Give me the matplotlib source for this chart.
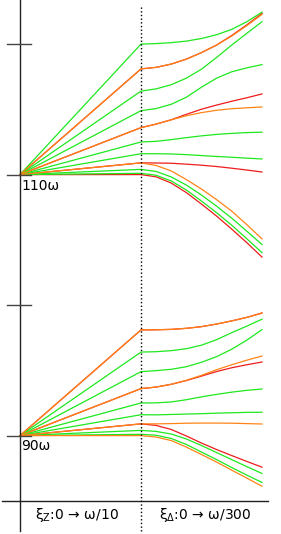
import matplotlib
matplotlib.use('Agg')
import matplotlib.pyplot as plt

# ---- data (energies in units of omega) ----
xi_delta = [0, 0.125, 0.25, 0.375, 0.5, 0.625, 0.75, 0.875, 1.0]   # fraction of omega/300

upper_base = 110
lower_base = 90
level_ticks = [90, 100, 110, 120]
base_labels = ['110ω', '90ω']

upper_green = [
    [120.0, 120.04, 120.11, 120.23, 120.43, 120.72, 121.13, 121.72, 122.45],
    [116.4, 116.57, 116.89, 117.39, 118.08, 118.98, 119.93, 120.83, 121.72],
    [114.9, 115.06, 115.39, 115.93, 116.7, 117.39, 117.88, 118.18, 118.43],
    [112.5, 112.55, 112.68, 112.83, 112.97, 113.08, 113.16, 113.22, 113.25],
    [111.6, 111.6, 111.58, 111.53, 111.46, 111.39, 111.33, 111.26, 111.2],
    [110.4, 110.24, 109.82, 109.2, 108.43, 107.58, 106.66, 105.66, 104.64],
    [110.1, 109.95, 109.51, 108.82, 107.97, 107.08, 106.12, 105.08, 104.02],
]
upper_orange = [
    [118.1, 118.22, 118.47, 118.85, 119.35, 119.93, 120.62, 121.42, 122.28],
    [113.6, 113.87, 114.2, 114.51, 114.75, 114.93, 115.05, 115.12, 115.18],
    [110.9, 110.7, 110.28, 109.62, 108.89, 108.08, 107.2, 106.16, 105.07],
]
upper_red = [
    [118.1, 118.22, 118.47, 118.85, 119.35, 119.93, 120.66, 121.48, 122.35],
    [113.6, 113.87, 114.2, 114.62, 115.01, 115.33, 115.62, 115.89, 116.18],
    [110.9, 110.89, 110.87, 110.8, 110.72, 110.62, 110.49, 110.35, 110.2],
    [110.0, 109.83, 109.35, 108.62, 107.74, 106.82, 105.82, 104.78, 103.68],
]

lower_green = [
    [96.4, 96.43, 96.51, 96.66, 96.93, 97.35, 97.89, 98.39, 98.92],
    [94.9, 94.98, 95.08, 95.28, 95.62, 96.05, 96.62, 97.32, 98.12],
    [92.5, 92.51, 92.58, 92.75, 92.97, 93.16, 93.33, 93.47, 93.57],
    [91.6, 91.59, 91.62, 91.65, 91.68, 91.72, 91.75, 91.78, 91.79],
    [90.4, 90.32, 90.12, 89.74, 89.24, 88.7, 88.16, 87.62, 87.1],
    [90.1, 90.03, 89.78, 89.32, 88.74, 88.16, 87.55, 86.97, 86.41],
]
lower_orange = [
    [98.1, 98.11, 98.14, 98.22, 98.35, 98.55, 98.79, 99.06, 99.38],
    [93.6, 93.72, 93.93, 94.24, 94.62, 95.05, 95.43, 95.78, 96.1],
    [90.9, 90.9, 90.92, 90.95, 90.96, 90.96, 90.95, 90.92, 90.89],
    [90.0, 89.89, 89.62, 89.12, 88.55, 87.97, 87.35, 86.74, 86.12],
]
lower_red = [
    [98.1, 98.11, 98.14, 98.22, 98.35, 98.55, 98.79, 99.06, 99.4],
    [93.6, 93.72, 93.93, 94.22, 94.56, 94.91, 95.2, 95.43, 95.64],
    [90.9, 90.78, 90.47, 89.97, 89.43, 88.93, 88.47, 88.02, 87.58],
]

GREEN = '#1ee81e'
ORANGE = '#ff8418'
RED = '#ee1c1c'

# ---- figure ----
fig = plt.figure(figsize=(2.81, 5.34), dpi=100)
ax = fig.add_axes([0, 0, 1, 1])
ax.set_xlim(-20 / 121, 261 / 121)
ax.set_ylim(82.46, 123.38)
ax.axis('off')


def draw(levels, base, color):
    # left part: Zeeman sweep (straight), right part: xi_delta sweep
    xs = [0] + [1 + t for t in xi_delta]
    ys = [base] + list(levels)
    ax.plot(xs, ys, color=color, lw=0.9, solid_joinstyle='round')


for lv in upper_red:
    draw(lv, upper_base, RED)
for lv in lower_red:
    draw(lv, lower_base, RED)
for lv in upper_green:
    draw(lv, upper_base, GREEN)
for lv in lower_green:
    draw(lv, lower_base, GREEN)
for lv in upper_orange:
    draw(lv, upper_base, ORANGE)
for lv in lower_orange:
    draw(lv, lower_base, ORANGE)

# axes drawn by hand
ax.plot([0, 0], [82.69, 123.38], color='#222222', lw=1.0)
ax.plot([-0.149, 2.05], [85.0, 85.0], color='#222222', lw=1.0)
for t in level_ticks:
    ax.plot([-0.107, 0.091], [t, t], color='#444444', lw=1.0)
ax.plot([1, 1], [82.69, 123.0], color='black', lw=1.0, ls=':')

ax.text(0.01, 108.82, base_labels[0], fontsize=10, ha='left', va='baseline')
ax.text(0.01, 88.9, base_labels[1], fontsize=10, ha='left', va='baseline')
ax.text(0.471, 83.61, 'ξ$_\\mathrm{Z}$:0 → ω/10', fontsize=10, ha='center', va='baseline')
ax.text(1.529, 83.61, 'ξ$_\\mathrm{\\Delta}$:0 → ω/300', fontsize=10, ha='center', va='baseline')

fig.savefig('out.png', dpi=100)
